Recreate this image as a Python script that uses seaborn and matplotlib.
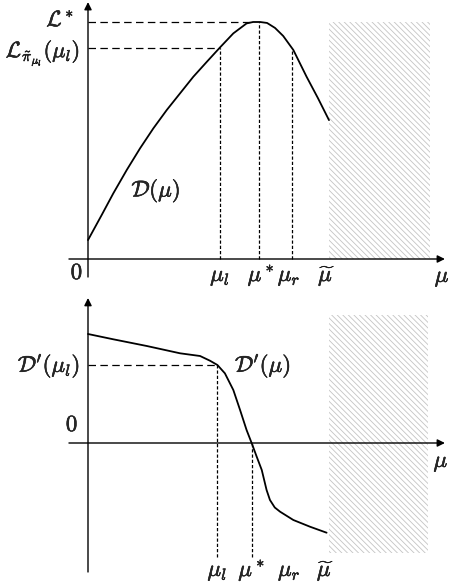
import matplotlib
matplotlib.use("Agg")
import matplotlib.pyplot as plt
import matplotlib.patheffects as pe
import seaborn as sns

sns.set_theme(style="white")
plt.rcParams["mathtext.fontset"] = "cm"
plt.rcParams["font.family"] = ["DejaVu Serif"]
plt.rcParams["hatch.linewidth"] = 0.6

# ---- data ----
# top panel: D(mu)
top_mu = [0.0, 0.057, 0.105, 0.161, 0.216, 0.271, 0.327, 0.382, 0.437, 0.493,
          0.548, 0.603, 0.658, 0.685, 0.714, 0.743, 0.776, 0.810, 0.852, 0.907,
          0.954, 1.0]
top_D = [0.080, 0.186, 0.277, 0.376, 0.467, 0.551, 0.629, 0.699, 0.769, 0.832,
         0.893, 0.952, 0.994, 1.0, 1.0, 0.996, 0.975, 0.941, 0.882, 0.769,
         0.679, 0.586]
# bottom panel: D'(mu)
bot_mu = [0.0, 0.105, 0.244, 0.382, 0.465, 0.506, 0.537, 0.568, 0.603, 0.631,
          0.658, 0.679, 0.700, 0.721, 0.741, 0.755, 0.775, 0.797, 0.852, 0.921, 0.990]
bot_Dp = [1.09, 1.037, 0.97, 0.897, 0.87, 0.823, 0.78, 0.697, 0.53, 0.33,
          0.13, 0.0, -0.137, -0.27, -0.47, -0.57, -0.645, -0.687, -0.77, -0.837, -0.897]

# marker positions
top_marks = {"mu_l": 0.548, "mu_star": 0.71, "mu_r": 0.846, "mu_tilde": 1.0}
top_levels = {"L_star": 1.0, "L_pi": 0.889, "D_mur": 0.882}
bot_marks = {"mu_l": 0.537, "mu_star": 0.679, "mu_r": 0.835, "mu_tilde": 0.985}
bot_levels = {"Dp_mul": 0.78}
hatch_right = 1.419
bot_hatch = (-1.10, 1.28)

x_tick_labels = [r"$\mu_l$", r"$\mu^*$", r"$\mu_r$", r"$\widetilde{\mu}$"]

W, H = 450, 584
fig = plt.figure(figsize=(W / 100, H / 100), dpi=100)

xlim = (-88 / 241, (W - 88) / 241)

ax1 = fig.add_axes([0, (H - 290) / H, 1, 290 / H])
ax1.set_xlim(*xlim)
ax1.set_ylim((259 - 290) / 237, 259 / 237)
ax2 = fig.add_axes([0, 0, 1, 294 / H])
ax2.set_xlim(*xlim)
ax2.set_ylim((443 - 584) / 100, (443 - 290) / 100)

for ax in (ax1, ax2):
    ax.set_axis_off()
    ax.patch.set_alpha(0)

lw_ax = 1.0
arrow_kw = dict(arrowstyle="-|>", color="black", lw=lw_ax, mutation_scale=11,
                shrinkA=0, shrinkB=0)
fs = 16.5
hatch_col = "#c4c4c4"
hatch_pat = "\\\\\\\\\\\\"
txt_fx = [pe.withStroke(linewidth=0.35, foreground="black")]


def label(ax, x, y, s, **kw):
    kw.setdefault("fontsize", fs)
    t = ax.text(x, y, s, **kw)
    t.set_path_effects(txt_fx)
    return t


# ---------------- top panel ----------------
ax1.fill_between([top_marks["mu_tilde"], hatch_right], 0, top_levels["L_star"],
                 facecolor="none", edgecolor=hatch_col, hatch=hatch_pat, linewidth=0)
ax1.annotate("", xy=(1.481, 0), xytext=(-0.079, 0), arrowprops=arrow_kw)
ax1.annotate("", xy=(0, 1.084), xytext=(0, -0.076), arrowprops=arrow_kw)

sns.lineplot(x=top_mu, y=top_D, ax=ax1, color="black", lw=1.3, sort=False,
             estimator=None)

dash_long = (0, (6, 3.5))
dash_short = (0, (2.6, 1.6))
ax1.plot([0, top_marks["mu_star"] - 0.03], [top_levels["L_star"]] * 2, color="black",
         lw=0.9, ls=dash_long)
ax1.plot([0, top_marks["mu_l"]], [top_levels["L_pi"]] * 2, color="black",
         lw=0.9, ls=dash_long)
ax1.plot([top_marks["mu_l"]] * 2, [0, top_levels["L_pi"]], color="black", lw=0.9, ls=dash_short)
ax1.plot([top_marks["mu_star"]] * 2, [0, top_levels["L_star"]], color="black", lw=0.9, ls=dash_short)
ax1.plot([top_marks["mu_r"]] * 2, [0, top_levels["D_mur"]], color="black", lw=0.9, ls=dash_short)

label(ax1, -0.058, 1.008, r"$\mathcal{L}^*$", ha="right", va="center", fontsize=16)
label(ax1, -0.033, 0.869, r"$\mathcal{L}_{\tilde{\pi}_{\mu_l}}(\mu_l)$", ha="right",
      va="center", fontsize=16)
label(ax1, 0.282, 0.287, r"$\mathcal{D}(\mu)$", ha="center", va="center")
label(ax1, -0.046, -0.059, r"$0$", ha="center", va="center")
label_y_top = -0.093
for key, lab, dx in zip(["mu_l", "mu_star", "mu_r", "mu_tilde"], x_tick_labels,
                        [0, 0.008, -0.012, -0.01]):
    label(ax1, top_marks[key] + dx, label_y_top, lab, ha="center", va="baseline")
label(ax1, 1.47, -0.097, r"$\mu$", ha="center", va="baseline")

# ---------------- bottom panel ----------------
ax2.fill_between([1.0, hatch_right - 0.008], bot_hatch[0], bot_hatch[1],
                 facecolor="none", edgecolor=hatch_col, hatch=hatch_pat, linewidth=0)
ax2.annotate("", xy=(1.481, 0), xytext=(-0.079, 0), arrowprops=arrow_kw)
ax2.annotate("", xy=(0, 1.45), xytext=(0, -1.29), arrowprops=arrow_kw)

sns.lineplot(x=bot_mu, y=bot_Dp, ax=ax2, color="black", lw=1.3, sort=False,
             estimator=None)

ax2.plot([0, bot_marks["mu_l"]], [bot_levels["Dp_mul"]] * 2, color="black", lw=0.9, ls=dash_long)
ax2.plot([bot_marks["mu_l"]] * 2, [-1.14, bot_levels["Dp_mul"]], color="black", lw=0.9, ls=dash_short)
ax2.plot([bot_marks["mu_star"]] * 2, [-1.14, 0], color="black", lw=0.9, ls=dash_short)

label(ax2, -0.033, 0.77, r"$\mathcal{D}'(\mu_l)$", ha="right", va="center")
label(ax2, 0.726, 0.77, r"$\mathcal{D}'(\mu)$", ha="center", va="center")
label(ax2, -0.066, 0.18, r"$0$", ha="center", va="center")
label_y_bot = -1.33
for key, lab in zip(["mu_l", "mu_star", "mu_r", "mu_tilde"], x_tick_labels):
    label(ax2, bot_marks[key], label_y_bot, lab, ha="center", va="baseline")
label(ax2, 1.465, -0.24, r"$\mu$", ha="center", va="baseline")

fig.savefig("out.png", dpi=100)
